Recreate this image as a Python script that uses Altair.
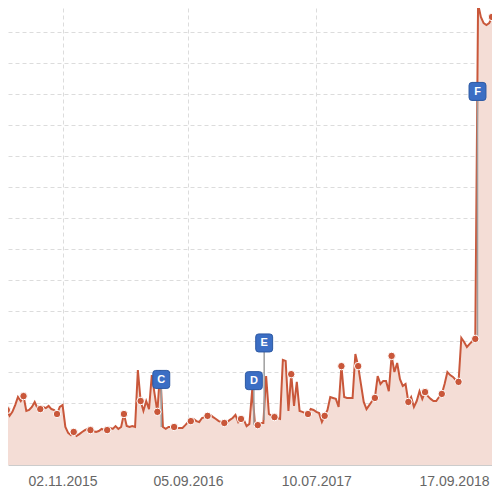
import altair as alt
import pandas as pd

# weekly series values (equally spaced points, ordinal time axis)
values = [
    1.78, 1.78, 1.78, 1.59, 1.72, 1.94, 2.20, 2.07, 2.23, 1.75,
    1.78, 1.88, 2.04, 1.84, 1.81, 1.88, 1.84, 1.91, 1.81, 1.78,
    1.65, 1.88, 1.94, 1.23, 1.04, 0.97, 1.07, 0.94, 1.00, 1.07,
    1.13, 1.17, 1.13, 1.10, 1.07, 1.10, 1.17, 1.13, 1.13, 1.20,
    1.17, 1.26, 1.17, 1.23, 1.65, 1.26, 1.23, 1.26, 1.23, 3.07,
    2.07, 1.75, 2.07, 1.81, 2.91, 2.30, 1.72, 3.07, 1.23, 1.17,
    1.23, 1.23, 1.23, 1.20, 1.20, 1.20, 1.29, 1.39, 1.42, 1.49,
    1.42, 1.39, 1.52, 1.55, 1.59, 1.62, 1.55, 1.49, 1.42, 1.39,
    1.36, 1.39, 1.46, 1.52, 1.62, 1.39, 1.49, 1.46, 1.26, 1.33,
    2.43, 1.33, 1.29, 1.36, 1.36, 2.88, 1.65, 1.59, 1.55, 1.52,
    1.49, 3.40, 3.37, 1.75, 2.94, 1.91, 2.69, 1.75, 1.72, 1.68,
    1.65, 1.81, 1.78, 1.72, 1.68, 1.39, 1.59, 1.78, 2.20, 2.17,
    2.14, 1.88, 3.20, 2.20, 2.17, 2.17, 2.17, 3.59, 3.20, 2.62,
    2.04, 1.81, 1.94, 2.07, 2.17, 2.88, 2.62, 2.72, 2.72, 2.39,
    3.53, 3.01, 3.30, 2.78, 2.56, 2.62, 2.04, 2.20, 1.88, 2.07,
    2.39, 2.14, 2.36, 2.23, 2.14, 2.07, 2.07, 2.20, 2.30, 2.62,
    3.01, 2.91, 2.85, 2.75, 2.69, 4.11, 3.98, 3.82, 3.92, 4.01,
    4.08, 14.92, 14.50, 14.30, 14.24, 14.30, 14.50,
]
marker_step = 6

tick_index = [22, 67, 113, 176]
tick_labels = ["02.11.2015", "05.09.2016", "10.07.2017", "17.09.2018"]

flag_labels = ["C", "D", "E", "F"]
flag_index = [57.4, 90.6, 94.3, 170.8]
flag_value = [2.77, 2.73, 3.95, 12.09]
flag_anchor = [1.23, 1.29, 1.46, 4.08]

grid_values = list(range(1, 15))

LINE = "#c9573a"
FILL = "#f4ddd6"
FLAG = "#3b6ec4"

n = len(values)
df = pd.DataFrame({"i": list(range(n)), "v": values})
df["marker"] = [((n - 1 - k) % marker_step == 0) for k in range(n)]
markers = df[df["marker"]]

flags = pd.DataFrame({"label": flag_labels, "i": flag_index,
                      "v": flag_value, "a": flag_anchor})

label_expr = " : ".join(
    f"datum.value == {t} ? '{l}'" for t, l in zip(tick_index, tick_labels)
) + " : ''"

xscale = alt.Scale(domain=[2.43, 176], nice=False, zero=False)
yscale = alt.Scale(domain=[0, 14.79], nice=False, zero=False)

xaxis = alt.Axis(values=tick_index, labelExpr=label_expr, title=None,
                 grid=True, gridDash=[4, 3], gridColor="#dcdcdc",
                 ticks=False, tickSize=0, domainColor="#cccccc",
                 labelColor="#666666", labelFontSize=14,
                 labelFont="Liberation Sans", labelPadding=9,
                 labelFlush=True, labelFlushOffset=-3)
yaxis = alt.Axis(values=grid_values, labels=False, ticks=False, domain=False,
                 title=None, grid=True, gridDash=[4, 3], gridColor="#dcdcdc")

X = alt.X("i:Q", scale=xscale, axis=xaxis)
Y = alt.Y("v:Q", scale=yscale, axis=yaxis)

base = alt.Chart(df)
area = base.mark_area(color=FILL, clip=True).encode(x=X, y=Y)
line = base.mark_line(color=LINE, strokeWidth=2, clip=True).encode(x=X, y=Y)
dots = alt.Chart(markers).mark_point(
    filled=True, fill=LINE, stroke="white", strokeWidth=1, size=56,
    opacity=1, clip=True
).encode(x=X, y=Y)

sticks = alt.Chart(flags).mark_rule(color="#9e9e9e", strokeWidth=1.5).encode(
    x=X, y=alt.Y("a:Q", scale=yscale, axis=yaxis), y2="v:Q"
)
box_path = ("M-0.62,-1 L0.62,-1 Q0.94,-1 0.94,-0.68 L0.94,0.68 Q0.94,1 0.62,1 "
            "L-0.62,1 Q-0.94,1 -0.94,0.68 L-0.94,-0.68 Q-0.94,-1 -0.62,-1 Z")
boxes = alt.Chart(flags).mark_point(
    shape=box_path, filled=True, fill=FLAG, stroke="#2c58a2", strokeWidth=1,
    size=324, opacity=1
).encode(x=X, y=Y)
letters = alt.Chart(flags).mark_text(
    color="white", fontWeight="bold", fontSize=11, font="Liberation Sans",
    align="center", baseline="middle", dy=0.5
).encode(x=X, y=Y, text="label:N")

chart = alt.layer(area, line, sticks, dots, boxes, letters).properties(
    width=484, height=457,
    autosize=alt.AutoSizeParams(type="none"),
    padding={"left": 0, "top": 0, "right": 0, "bottom": 23},
).configure_view(strokeOpacity=0)

chart.save("out.html", embed_options={"renderer": "svg", "actions": False})
